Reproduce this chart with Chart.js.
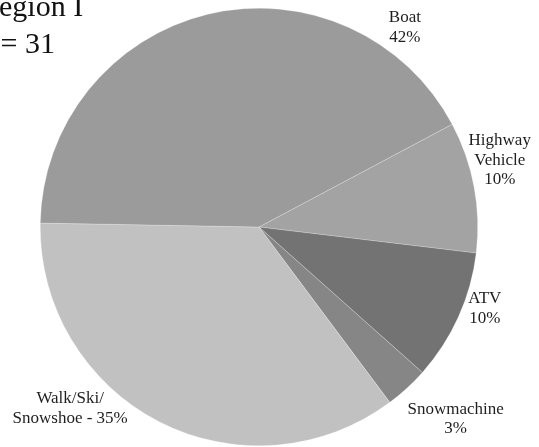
<!DOCTYPE html>
<html>
<head>
<meta charset="utf-8">
<script src="https://cdn.jsdelivr.net/npm/chart.js@4.4.1/dist/chart.umd.min.js"></script>
<style>
  html, body { margin: 0; padding: 0; background: #fff; }
  canvas { display: block; }
</style>
</head>
<body>
<canvas id="myChart" width="539" height="447"></canvas>
<script>
// data (counts per mode, n = 31), clockwise from the Boat/Highway edge
var categories = ['Highway Vehicle', 'ATV', 'Snowmachine', 'Walk/Ski/Snowshoe', 'Boat'];
var counts = [3, 3, 1, 11, 13];
var titleLines = ['Region I', 'n = 31'];

// how each label is split into lines, {p} is the percent
var labelLines = [
    ['Highway', 'Vehicle', '{p}'],
    ['ATV', '{p}'],
    ['Snowmachine', '{p}'],
    ['Walk/Ski/', 'Snowshoe - {p}'],
    ['Boat', '{p}']
];
// label spot: angle in degrees (0 = right, clockwise) and distance as a share of the radius
var labelSpots = [
    { angle: -15.5, dist: 1.142 },
    { angle: 19.9, dist: 1.098 },
    { angle: 44.3, dist: 1.256 },
    { angle: 136.1, dist: 1.198 },
    { angle: -53.8, dist: 1.129 }
];
var sliceColors = ['#a3a3a3', '#737373', '#868686', '#c1c1c1', '#9b9b9b'];

var serif = '"Liberation Serif", "DejaVu Serif", serif';

var pieLabels = {
    id: 'pieLabels',
    afterDatasetsDraw: function(chart) {
        var ctx = chart.ctx;
        var arcs = chart.getDatasetMeta(0).data;
        var total = counts.reduce(function(a, b) { return a + b; }, 0);
        var cx = arcs[0].x, cy = arcs[0].y, r = arcs[0].outerRadius;
        ctx.save();
        ctx.fillStyle = '#1e1e1e';
        ctx.font = '17px ' + serif;
        ctx.textAlign = 'center';
        ctx.textBaseline = 'middle';
        var lh = 19.5;
        labelLines.forEach(function(lines, i) {
            var pct = Math.round(counts[i] / total * 100) + '%';
            var a = labelSpots[i].angle * Math.PI / 180;
            var x = cx + Math.cos(a) * r * labelSpots[i].dist;
            var y = cy + Math.sin(a) * r * labelSpots[i].dist;
            var y0 = y - (lines.length - 1) * lh / 2;
            lines.forEach(function(t, j) {
                ctx.fillText(t.replace('{p}', pct), x, y0 + j * lh);
            });
        });

        // title, partly off the left edge like the original
        ctx.fillStyle = '#111';
        ctx.font = '30px ' + serif;
        ctx.textAlign = 'left';
        ctx.textBaseline = 'alphabetic';
        ctx.fillText(titleLines[0], -21, 16);
        ctx.fillText(titleLines[1], -22, 53);
        ctx.restore();
    }
};

var ctx = document.getElementById('myChart').getContext('2d');
var chart = new Chart(ctx, {
    type: 'pie',
    data: {
        labels: categories,
        datasets: [{
            data: counts,
            backgroundColor: sliceColors,
            borderColor: 'rgba(255,255,255,0.45)',
            borderWidth: 0.5
        }]
    },
    options: {
        responsive: false,
        animation: false,
        rotation: 62,
        layout: { padding: { left: 40, right: 61, top: 8, bottom: 1 } },
        plugins: {
            legend: { display: false },
            tooltip: { enabled: false },
            title: { display: false }
        }
    },
    plugins: [pieLabels]
});
</script>
</body>
</html>
